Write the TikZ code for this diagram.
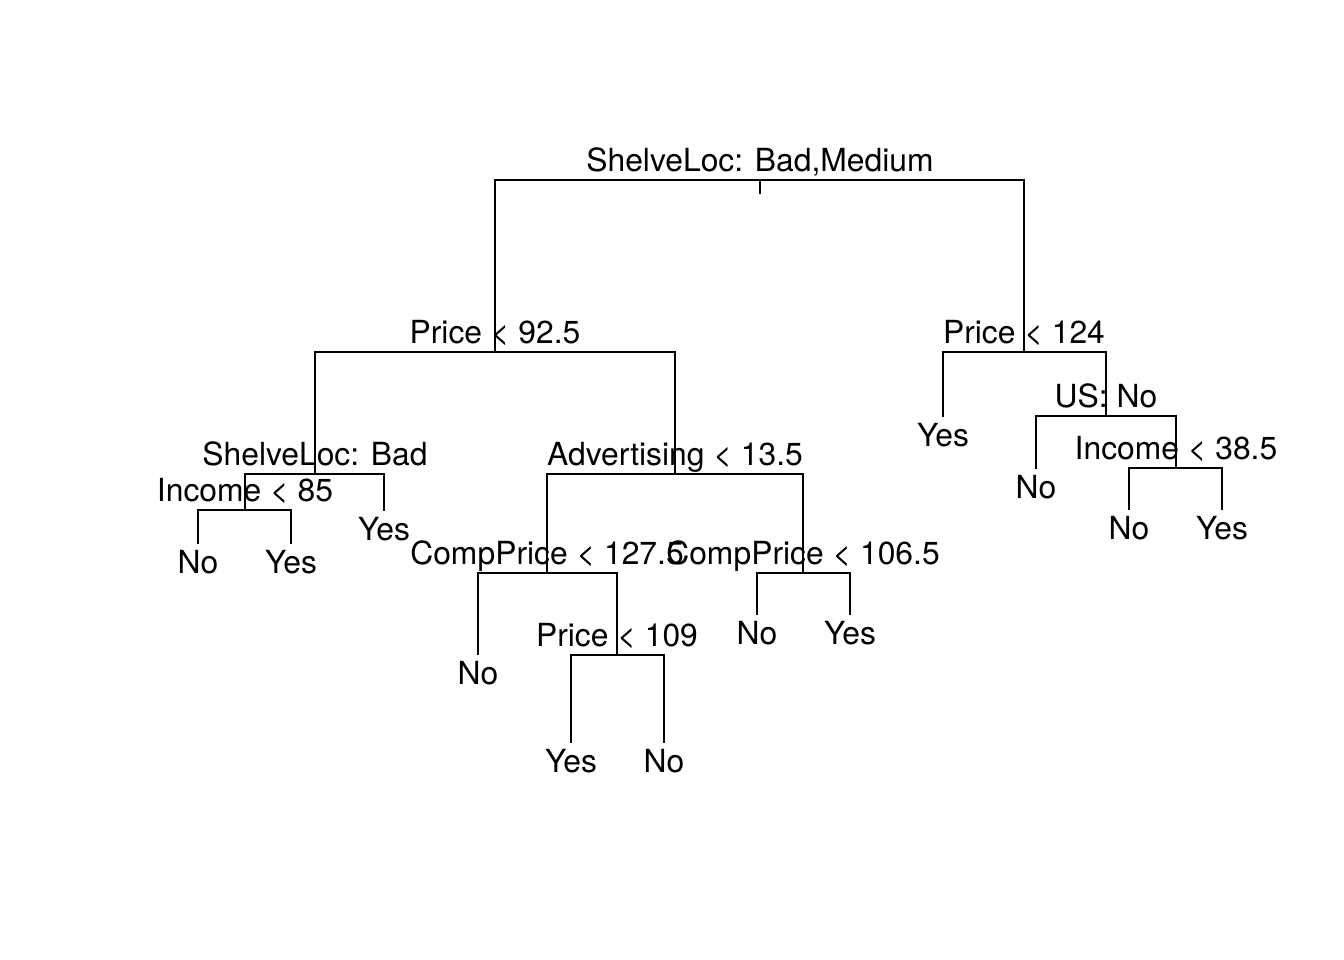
\documentclass[tikz,border=0pt]{standalone}
\usepackage{fontspec}
\setmainfont{TeX Gyre Heros}

\begin{document}
\begin{tikzpicture}[x=0.01cm, y=-0.01cm, line width=0.57pt,
  font=\fontsize{9.05pt}{11pt}\selectfont,
  splitlab/.style={anchor=base, yshift=0.09cm},
  leaflab/.style={anchor=base, yshift=-0.29cm}]

\useasboundingbox (0,0) rectangle (1344,960);

% ============================================================
%  Node positions (x, level of the node in the tree)
% ============================================================
\coordinate (n1) at (760, 180);
\coordinate (n1tick) at (760, 194);
\coordinate (n2) at (495, 352);
\coordinate (n3) at (1024, 352);
\coordinate (n4) at (315, 474);
\coordinate (n5) at (675, 474);
\coordinate (n6) at (943, 417);
\coordinate (n7) at (1106, 416);
\coordinate (n8) at (245, 510);
\coordinate (n9) at (384, 511);
\coordinate (n10) at (547, 573);
\coordinate (n11) at (803, 573);
\coordinate (n14) at (1036, 469);
\coordinate (n15) at (1176, 468);
\coordinate (n16) at (198, 544);
\coordinate (n17) at (291, 544);
\coordinate (n20) at (478, 655);
\coordinate (n21) at (617, 655);
\coordinate (n22) at (757, 615);
\coordinate (n23) at (850, 615);
\coordinate (n30) at (1129, 510);
\coordinate (n31) at (1222, 510);
\coordinate (n42) at (571, 743);
\coordinate (n43) at (664, 743);

% ---- branches: left child up, across, down to right child ----
\draw (n1) -- (n1tick);
\draw (n2) |- (n1) -| (n3);
\draw (n4) |- (n2) -| (n5);
\draw (n6) |- (n3) -| (n7);
\draw (n8) |- (n4) -| (n9);
\draw (n10) |- (n5) -| (n11);
\draw (n14) |- (n7) -| (n15);
\draw (n16) |- (n8) -| (n17);
\draw (n20) |- (n10) -| (n21);
\draw (n22) |- (n11) -| (n23);
\draw (n30) |- (n15) -| (n31);
\draw (n42) |- (n21) -| (n43);

% ============================================================
%  Split labels
% ============================================================
\node[splitlab] (t1) at (n1) {ShelveLoc: Bad,Medium};
\node[splitlab] (t2) at (n2) {Price < 92.5};
\node[splitlab] (t3) at (n3) {Price < 124};
\node[splitlab] (t4) at (n4) {ShelveLoc: Bad};
\node[splitlab] (t5) at (n5) {Advertising < 13.5};
\node[splitlab] (t7) at (n7) {US: No};
\node[splitlab] (t8) at (n8) {Income < 85};
\node[splitlab] (t10) at (n10) {CompPrice < 127.5};
\node[splitlab] (t11) at (n11) {CompPrice < 106.5};
\node[splitlab] (t15) at (n15) {Income < 38.5};
\node[splitlab] (t21) at (n21) {Price < 109};

% ---- leaf labels ----
\node[leaflab] (t6) at (n6) {Yes};
\node[leaflab] (t9) at (n9) {Yes};
\node[leaflab] (t14) at (n14) {No};
\node[leaflab] (t16) at (n16) {No};
\node[leaflab] (t17) at (n17) {Yes};
\node[leaflab] (t20) at (n20) {No};
\node[leaflab] (t22) at (n22) {No};
\node[leaflab] (t23) at (n23) {Yes};
\node[leaflab] (t30) at (n30) {No};
\node[leaflab] (t31) at (n31) {Yes};
\node[leaflab] (t42) at (n42) {Yes};
\node[leaflab] (t43) at (n43) {No};

\end{tikzpicture}
\end{document}
